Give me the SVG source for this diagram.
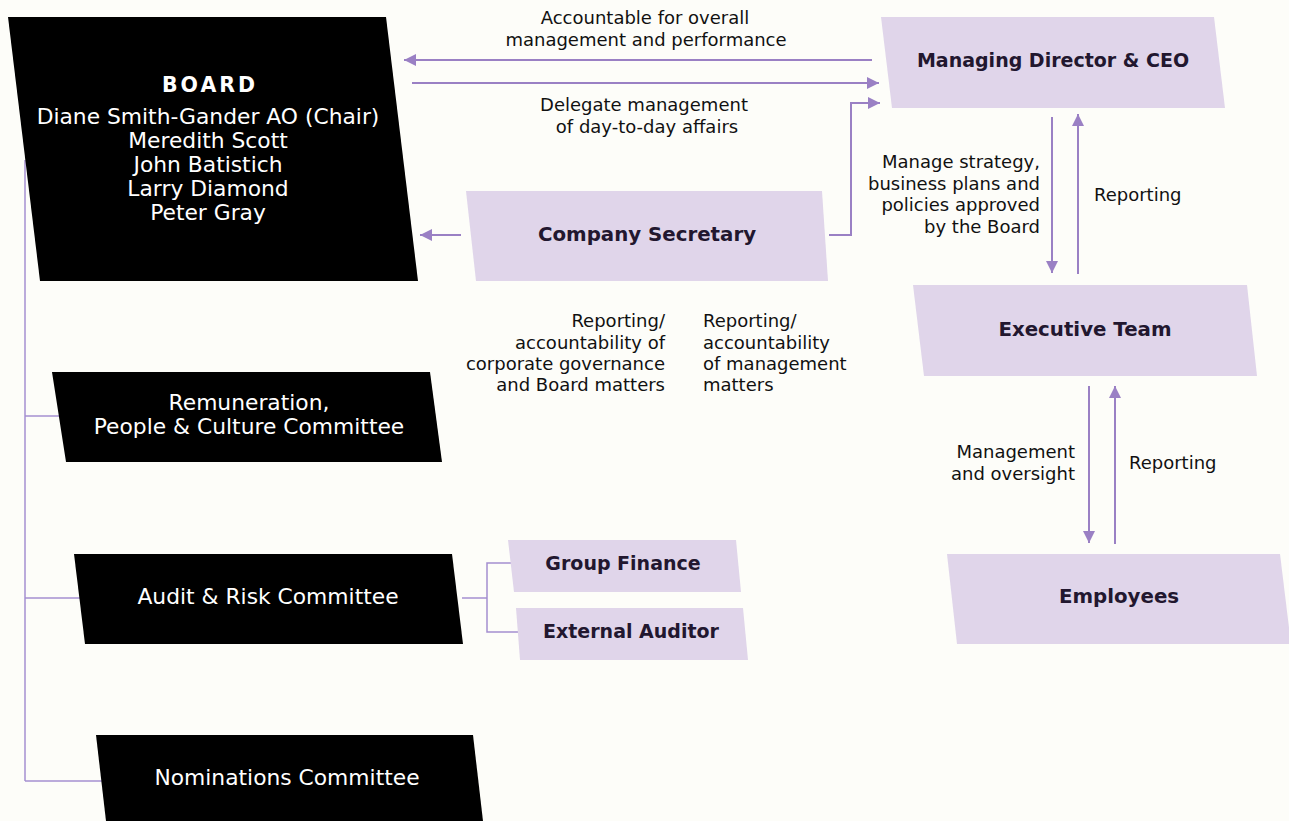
<svg xmlns="http://www.w3.org/2000/svg" width="1289" height="821" viewBox="0 0 1289 821">
<defs>
<marker id="ah" viewBox="0 0 12 12" markerWidth="12" markerHeight="12" markerUnits="userSpaceOnUse" refX="12" refY="6" orient="auto">
<path d="M0,0 L12,6 L0,12 z" fill="#9a80c4"/>
</marker>
<style>
.blk{fill:#000}
.pur{fill:#e0d5ea}
.wt{font-family:"DejaVu Sans",sans-serif;font-size:21.8px;fill:#fff;text-anchor:middle}
.bt{font-family:"DejaVu Sans",sans-serif;font-weight:bold;font-size:19px;fill:#22172f;text-anchor:middle}
.bt2{font-size:19.8px}
.lb{font-family:"DejaVu Sans",sans-serif;font-size:18px;fill:#111}
.c{text-anchor:middle}
.r{text-anchor:end}
.ln{fill:none;stroke:#9a80c4;stroke-width:2}
.tr{fill:none;stroke:#a48fd0;stroke-width:1.5}
</style>
</defs>
<rect width="1289" height="821" fill="#fdfdf9"/>

<g id="connectors">
<polyline class="tr" points="25,160 25,781"/>
<line class="tr" x1="25" y1="416" x2="59" y2="416"/>
<line class="tr" x1="25" y1="598" x2="80" y2="598"/>
<line class="tr" x1="25" y1="781" x2="102" y2="781"/>
<line class="tr" x1="462" y1="598" x2="487" y2="598"/>
<polyline class="tr" points="512,563 487,563 487,632 519,632"/>
<line class="ln" x1="872" y1="60" x2="404" y2="60" marker-end="url(#ah)"/>
<line class="ln" x1="412" y1="83" x2="879" y2="83" marker-end="url(#ah)"/>
<polyline class="ln" points="829,235 851,235 851,103 880,103" marker-end="url(#ah)"/>
<line class="ln" x1="461" y1="235" x2="420" y2="235" marker-end="url(#ah)"/>
<line class="ln" x1="1052" y1="117" x2="1052" y2="273" marker-end="url(#ah)"/>
<line class="ln" x1="1078" y1="274" x2="1078" y2="114" marker-end="url(#ah)"/>
<line class="ln" x1="1089" y1="386" x2="1089" y2="543" marker-end="url(#ah)"/>
<line class="ln" x1="1115" y1="544" x2="1115" y2="386" marker-end="url(#ah)"/>
</g>

<g id="labels">
<text class="lb c" x="645" y="24">Accountable for overall</text>
<text class="lb c" x="646" y="46">management and performance</text>
<text class="lb c" x="644" y="111">Delegate management</text>
<text class="lb c" x="647" y="133">of day-to-day affairs</text>
<text class="lb r" x="1040" y="168">Manage strategy,</text>
<text class="lb r" x="1040" y="190">business plans and</text>
<text class="lb r" x="1040" y="211">policies approved</text>
<text class="lb r" x="1040" y="233">by the Board</text>
<text class="lb" x="1094" y="201">Reporting</text>
<text class="lb r" x="665" y="327">Reporting/</text>
<text class="lb r" x="665" y="349">accountability of</text>
<text class="lb r" x="665" y="370">corporate governance</text>
<text class="lb r" x="665" y="391">and Board matters</text>
<text class="lb" x="703" y="327">Reporting/</text>
<text class="lb" x="703" y="349">accountability</text>
<text class="lb" x="703" y="370">of management</text>
<text class="lb" x="703" y="391">matters</text>
<text class="lb r" x="1075" y="458">Management</text>
<text class="lb r" x="1075" y="480">and oversight</text>
<text class="lb" x="1129" y="469">Reporting</text>
</g>

<g id="board">
<polygon class="blk" points="8,17 386,17 418,281 40,281"/>
<text x="162" y="92" font-family="DejaVu Sans, sans-serif" font-weight="bold" font-size="20.5" fill="#fff" textLength="93">BOARD</text>
<text class="wt" x="208" y="124">Diane Smith-Gander AO (Chair)</text>
<text class="wt" x="208" y="148">Meredith Scott</text>
<text class="wt" x="208" y="172">John Batistich</text>
<text class="wt" x="208" y="196">Larry Diamond</text>
<text class="wt" x="208" y="220">Peter Gray</text>
</g>

<g id="remuneration">
<polygon class="blk" points="52,372 430,372 442,462 66,462"/>
<text class="wt" x="249" y="410">Remuneration,</text>
<text class="wt" x="249" y="434">People &amp; Culture Committee</text>
</g>

<g id="audit">
<polygon class="blk" points="74,554 452,554 463,644 85,644"/>
<text class="wt" x="268" y="604">Audit &amp; Risk Committee</text>
</g>

<g id="nominations">
<polygon class="blk" points="96,735 473,735 483,821 106,821"/>
<text class="wt" x="287" y="785">Nominations Committee</text>
</g>

<g id="company-secretary">
<polygon class="pur" points="466,191 822,191 828,281 476,281"/>
<text class="bt bt2" x="647" y="241">Company Secretary</text>
</g>

<g id="md-ceo">
<polygon class="pur" points="881,17 1214,17 1225,108 892,108"/>
<text class="bt" x="1053" y="67">Managing Director &amp; CEO</text>
</g>

<g id="executive-team">
<polygon class="pur" points="913,285 1247,285 1257,376 924,376"/>
<text class="bt bt2" x="1085" y="336">Executive Team</text>
</g>

<g id="employees">
<polygon class="pur" points="947,554 1280,554 1291,644 957,644"/>
<text class="bt bt2" x="1119" y="603">Employees</text>
</g>

<g id="group-finance">
<polygon class="pur" points="508,540 736,540 741,592 514,592"/>
<text class="bt" x="623" y="570">Group Finance</text>
</g>

<g id="external-auditor">
<polygon class="pur" points="516,608 743,608 748,660 520,660"/>
<text class="bt" x="631" y="638">External Auditor</text>
</g>
</svg>
